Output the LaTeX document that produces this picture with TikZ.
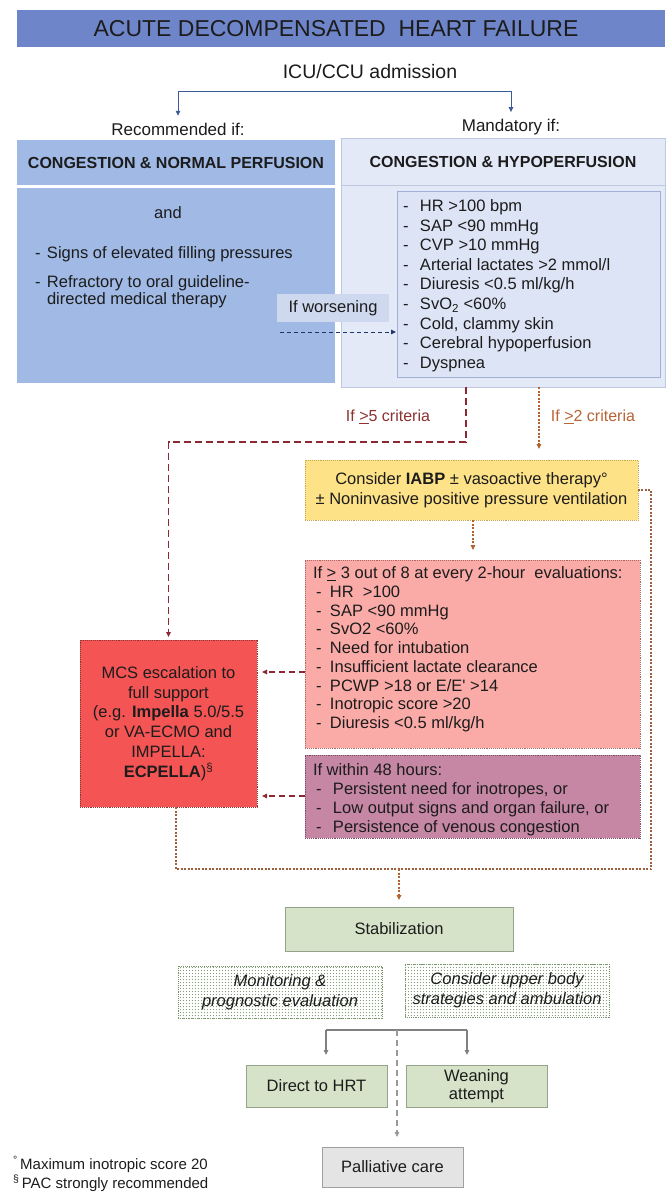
\documentclass[tikz,border=0pt]{standalone}
\usepackage{fontspec}
\setmainfont{Liberation Sans}
\usetikzlibrary{arrows.meta,patterns,patterns.meta,calc}
\newcommand\myfs[2]{\fontsize{#1}{#2}\selectfont}
\definecolor{ink}{RGB}{28,28,28}
\definecolor{titleblue}{RGB}{111,133,201}
\definecolor{leftblue}{RGB}{160,185,229}
\definecolor{rfill}{RGB}{228,233,247}
\definecolor{rborder}{RGB}{190,200,225}
\definecolor{rifill}{RGB}{221,228,245}
\definecolor{riborder}{RGB}{160,176,214}
\definecolor{wlabel}{RGB}{206,216,239}
\definecolor{arrblue}{RGB}{60,90,150}
\definecolor{navy}{RGB}{30,55,105}
\definecolor{yel}{RGB}{253,226,135}
\definecolor{yelborder}{RGB}{200,165,80}
\definecolor{pinkf}{RGB}{250,171,167}
\definecolor{pinkborder}{RGB}{170,105,100}
\definecolor{mauve}{RGB}{197,135,164}
\definecolor{mauveborder}{RGB}{125,75,95}
\definecolor{mcsred}{RGB}{244,84,84}
\definecolor{mcsborder}{RGB}{140,55,50}
\definecolor{greenf}{RGB}{214,227,200}
\definecolor{greenborder}{RGB}{150,163,140}
\definecolor{dotgreen}{RGB}{120,150,105}
\definecolor{palf}{RGB}{228,228,228}
\definecolor{palborder}{RGB}{160,160,160}
\definecolor{darkred}{RGB}{140,40,50}
\definecolor{redtext}{RGB}{140,50,50}
\definecolor{orangeline}{RGB}{180,97,46}
\definecolor{orangetext}{RGB}{184,100,55}
\definecolor{brownline}{RGB}{160,95,60}
\definecolor{grayline}{RGB}{128,128,128}
\tikzdeclarepattern{
  name=bigdots,
  type=uncolored,
  bounding box={(0pt,0pt) and (3.4pt,3.4pt)},
  tile size={(3.4pt,3.4pt)},
  code={\fill (1.7pt,1.7pt) circle (0.65pt);}
}
\begin{document}
\begin{tikzpicture}[x=1pt,y=-1pt,
  box/.style={anchor=north west,inner sep=0pt,outer sep=0pt,text=ink,align=center,font=\myfs{16.5}{19.5}},
  txt/.style={inner sep=0pt,outer sep=0pt,text=ink,font=\myfs{16.5}{19.5}},
  arrhead/.style={-{Triangle[length=5pt,width=4.5pt]}},
  blueconn/.style={draw=arrblue,line width=0.8pt},
  worsenconn/.style={draw=navy,line width=1pt,dash pattern=on 4pt off 3pt,arrhead},
  redconn/.style={draw=darkred,line width=1.3pt,dash pattern=on 7pt off 4pt},
  dotconn/.style={draw=orangeline,line width=1.1pt,dash pattern=on 2pt off 1.5pt},
  loopconn/.style={draw=brownline,line width=1.1pt,dash pattern=on 2pt off 1.5pt},
  grayconn/.style={draw=grayline,line width=1.3pt},
  graydash/.style={draw=grayline!80,line width=1.2pt,dash pattern=on 6pt off 4pt},
  dotbox/.style={box,densely dotted,line width=0.9pt},
  greenbox/.style={box,fill=greenf,draw=greenborder,line width=1pt},
  patbox/.style={box,pattern=bigdots,pattern color=dotgreen,draw=dotgreen,densely dotted,line width=0.9pt,font=\myfs{16.5}{20}\itshape},
]
\useasboundingbox (0,0) rectangle (670,1200);
\fill[white] (0,0) rectangle (670,1200);

% title
\node[box,fill=titleblue,minimum width=648pt,minimum height=37pt] (title) at (17,10) {};
\node[txt,font=\myfs{23}{26}] (titletext) at (336,29) {ACUTE DECOMPENSATED\ \ HEART FAILURE};
\node[txt,font=\myfs{19.5}{22}] (icu) at (370,72) {ICU/CCU admission};
\node[txt,font=\myfs{17}{20}] (rec) at (178,129) {Recommended if:};
\node[txt,font=\myfs{17}{20}] (mand) at (511,127) {Mandatory if:};
\coordinate (bkt) at (345,91);
\draw[blueconn,arrhead,shorten >=7pt] (bkt) -| (rec.north);
\draw[blueconn,arrhead,shorten >=7pt] (bkt) -| (mand.north);

% left
\node[box,fill=leftblue,minimum width=318pt,minimum height=45pt,font=\bfseries\myfs{16}{19}] (lh) at (17,140) {CONGESTION \& NORMAL PERFUSION};
\node[box,fill=leftblue,minimum width=318pt,minimum height=195pt] (lb) at (17,188) {};
\node[txt,anchor=base] (and) at (168,218.5) {and};
\node[txt,anchor=base west] (l1) at (35,258.5) {\makebox[12pt][l]{-}Signs of elevated filling pressures};
\node[txt,anchor=base west] (l2) at (35,287.5) {\makebox[12pt][l]{-}Refractory to oral guideline-};
\node[txt,anchor=base west] (l3) at (47,304) {directed medical therapy};

% right
\node[box,fill=rfill,draw=rborder,line width=1pt,minimum width=324pt,minimum height=47pt,font=\bfseries\myfs{16}{19}] (rh) at (341,138) {CONGESTION \& HYPOPERFUSION};
\node[box,fill=rfill,draw=rborder,line width=1pt,minimum width=324pt,minimum height=202pt] (rb) at (341,185) {};
\node[box,fill=rifill,draw=riborder,line width=0.8pt,minimum width=263pt,minimum height=186pt] (ri) at (397,191) {};
\foreach \t [count=\i from 0] in {HR >100 bpm, SAP <90 mmHg, CVP >10 mmHg, Arterial lactates >2 mmol/l, Diuresis <0.5 ml/kg/h, SvO\textsubscript{2} <60\%, {Cold, clammy skin}, Cerebral hypoperfusion, Dyspnea}
  \node[txt,anchor=base west] (r\i) at (403,{211.5+\i*19.6}) {\makebox[17pt][l]{-}\t};

% worsening
\node[txt,fill=wlabel,minimum width=112pt,minimum height=28pt] (wl) at (333,308) {If worsening};
\coordinate (ws) at (280,332);
\draw[worsenconn,shorten >=1pt] (ws) -- (ws -| ri.west);

% criteria labels
\node[txt,font=\myfs{16}{19},text=redtext] (c5) at (388,417) {If \underline{>}5 criteria};
\node[txt,font=\myfs{16}{19},text=orangetext] (c2) at (593,417) {If \underline{>}2 criteria};

% yellow
\node[dotbox,fill=yel,draw=yelborder,minimum width=333pt,minimum height=60pt] (iabp) at (305,460) {Consider \textbf{IABP} ± vasoactive therapy°\\± Noninvasive positive pressure ventilation};

% pink
\node[dotbox,fill=pinkf,draw=pinkborder,minimum width=335pt,minimum height=188pt] (pink) at (305,560) {};
\node[txt,anchor=base west] (p0) at (313,578.5) {If \underline{>} 3 out of 8 at every 2-hour\ \ evaluations:};
\foreach \t [count=\i] in {HR\ \ >100, SAP <90 mmHg, SvO2 <60\%, Need for intubation, Insufficient lactate clearance, PCWP >18 or E/E\textquotesingle\ >14, Inotropic score >20, Diuresis <0.5 ml/kg/h}
  \node[txt,anchor=base west] (p\i) at (316,{578.5+\i*18.75}) {\makebox[14pt][l]{-}\t};

% purple
\node[dotbox,fill=mauve,draw=mauveborder,minimum width=335pt,minimum height=83pt] (purp) at (305,755) {};
\node[txt,anchor=base west] (q0) at (313,775.5) {If within 48 hours:};
\foreach \t [count=\i] in {{Persistent need for inotropes, or}, {Low output signs and organ failure, or}, Persistence of venous congestion}
  \node[txt,anchor=base west] (q\i) at (316,{775.5+\i*19}) {\makebox[17pt][l]{-}\t};

% MCS
\node[dotbox,fill=mcsred,draw=mcsborder,minimum width=177pt,minimum height=167pt,font=\myfs{16.5}{19.8}] (mcs) at (80,640) {MCS escalation to\\full support\\(e.g. \textbf{Impella} 5.0/5.5\\or VA-ECMO and\\IMPELLA:\\\textbf{ECPELLA})\textsuperscript{§}};

% stabilization and below
\node[greenbox,minimum width=228pt,minimum height=44pt] (stab) at (285,907) {Stabilization};
\node[patbox,minimum width=204pt,minimum height=52pt] (mon) at (178,966) {Monitoring \&\\prognostic evaluation};
\node[patbox,minimum width=204pt,minimum height=53pt] (cub) at (405,964) {Consider upper body\\strategies and ambulation};
\node[greenbox,minimum width=141pt,minimum height=42pt] (hrt) at (246,1065) {Direct to HRT};
\node[greenbox,minimum width=141pt,minimum height=42pt,font=\myfs{16.5}{17.5}] (wean) at (406,1065) {Weaning\\attempt};
\node[box,fill=palf,draw=palborder,line width=1pt,minimum width=141pt,minimum height=40pt] (pal) at (322,1147) {Palliative care};

% footnotes
\node[txt,anchor=base west,font=\myfs{15}{18}] (fn1) at (13,1169) {\textsuperscript{°}\,Maximum inotropic score 20};
\node[txt,anchor=base west,font=\myfs{15}{18}] (fn2) at (13,1188) {\textsuperscript{§}\,PAC strongly recommended};

% connectors
\coordinate (x466) at (466,442);
\draw[redconn,arrhead,shorten >=3pt] (x466 |- rb.south) -- (x466) -| (mcs.north);
\coordinate (o2) at (539,0);
\draw[dotconn,arrhead,shorten >=11pt] (o2 |- rb.south) -- (o2 |- iabp.north);
\coordinate (o3) at (473,0);
\draw[dotconn,arrhead,shorten >=10pt] (o3 |- iabp.south) -- (o3 |- pink.north);
\coordinate (a1) at (0,672);
\coordinate (a2) at (0,796);
\draw[redconn,line width=1.2pt,dash pattern=on 6pt off 4pt,arrhead,shorten >=5pt] (pink.west |- a1) -- (mcs.east |- a1);
\draw[redconn,line width=1.2pt,dash pattern=on 6pt off 4pt,arrhead,shorten >=5pt] (purp.west |- a2) -- (mcs.east |- a2);
\coordinate (lx) at (176,869);
\coordinate (rx) at (651,869);
\draw[loopconn] (mcs.south -| lx) -- (lx) -- (rx) |- (iabp.east);
\draw[dotconn,arrhead,shorten >=7pt] (stab.north |- lx) -- (stab.north);
\coordinate (gl) at (326,1030);
\coordinate (gr) at (467,1030);
\coordinate (gm) at (397,1030);
\draw[grayconn] (gl) -- (gr);
\draw[grayconn,arrhead,shorten >=10pt] (gl) -- (gl |- hrt.north);
\draw[grayconn,arrhead,shorten >=10pt] (gr) -- (gr |- wean.north);
\draw[graydash,arrhead,shorten >=10pt] (gm) -- (gm |- pal.north);
\end{tikzpicture}
\end{document}
